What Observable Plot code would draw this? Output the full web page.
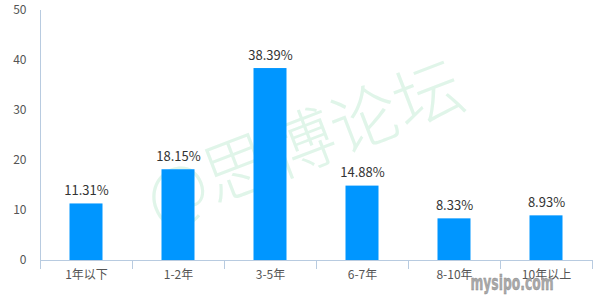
<!DOCTYPE html>
<html>
<head>
<meta charset="utf-8">
<script src="https://cdn.jsdelivr.net/npm/d3@7"></script>
<script src="https://cdn.jsdelivr.net/npm/@observablehq/plot@0.6"></script>
<style>
  body { margin: 0; background: #fff; }
  svg { display: block; }
</style>
</head>
<body>
<div id="chart"></div>
<script>
const categories = ["1年以下", "1-2年", "3-5年", "6-7年", "8-10年", "10年以上"];
const values = [11.31, 18.15, 38.39, 14.88, 8.33, 8.93];
const yTicks = [0, 10, 20, 30, 40, 50];
const watermark = "@思博论坛";
const siteMark = "mysipo.com";

const data = categories.map((c, i) => ({cat: c, val: values[i]}));
const font = "'Noto Sans CJK SC', 'Noto Sans', sans-serif";
const axisColor = "#b8cbe0";

function bandWidth(s, dims) {
  const b = s.x.bandwidth;
  if (typeof b === "function") return b();
  if (typeof b === "number") return b;
  return (dims.width - dims.marginLeft - dims.marginRight) / categories.length;
}

const watermarkMark = (index, scales, values, dims) => {
  const g = d3.create("svg:g");
  const cx = (dims.marginLeft + dims.width - dims.marginRight) / 2 - 14;
  const cy = dims.marginTop + (dims.height - dims.marginTop - dims.marginBottom) / 2 + 3;
  g.append("text")
    .attr("transform", `translate(${cx},${cy}) rotate(-21)`)
    .attr("text-anchor", "middle")
    .attr("dominant-baseline", "central")
    .attr("font-family", font)
    .attr("font-size", 68)
    .attr("font-weight", 300)
    .attr("fill", "#e0f5e9")
    .text(watermark);
  return g.node();
};

const gridMark = (index, scales, values, dims) => {
  const g = d3.create("svg:g").attr("stroke", axisColor).attr("stroke-width", 1);
  const bw = bandWidth(scales, dims);
  const x0 = scales.x(categories[0]);
  const y0 = scales.y(0);
  for (let i = 0; i <= categories.length; i++) {
    const x = Math.round(x0 + i * bw) + 0.5;
    g.append("line").attr("x1", x).attr("x2", x).attr("y1", y0).attr("y2", y0 + 9);
  }
  const xa = Math.round(x0) + 0.5;
  g.append("line").attr("x1", xa).attr("x2", xa).attr("y1", dims.marginTop).attr("y2", y0);
  g.append("line").attr("x1", x0).attr("x2", x0 + bw * categories.length)
    .attr("y1", Math.round(y0) + 0.5).attr("y2", Math.round(y0) + 0.5);
  return g.node();
};

const siteMarkMark = (index, scales, values, dims) => {
  const g = d3.create("svg:g");
  g.append("text")
    .attr("x", dims.width - 88)
    .attr("y", dims.height - 10)
    .attr("textLength", 83)
    .attr("lengthAdjust", "spacingAndGlyphs")
    .attr("font-family", "'DejaVu Sans Condensed', 'DejaVu Sans', sans-serif")
    .attr("font-weight", "bold")
    .attr("font-size", 21)
    .attr("fill", "#a8a8a8")
    .attr("stroke", "#8a8a8a")
    .attr("stroke-width", 0.4)
    .text(siteMark);
  return g.node();
};

const chart = Plot.plot({
  width: 600,
  height: 300,
  marginLeft: 40,
  marginRight: 8,
  marginTop: 10,
  marginBottom: 40,
  style: {fontFamily: font, background: "#fff"},
  x: {domain: categories, padding: 0, label: null},
  y: {domain: [0, 50], label: null},
  marks: [
    watermarkMark,
    Plot.barY(data, {x: "cat", y: "val", fill: "#0096ff", insetLeft: 29.5, insetRight: 29.5}),
    Plot.text(data, {x: "cat", y: "val", text: d => d.val.toFixed(2) + "%", lineAnchor: "bottom", dy: -9, fontSize: 13, fill: "#333"}),
    gridMark,
    Plot.axisY({ticks: yTicks, tickSize: 0, tickPadding: 14, fontSize: 12, color: "#555", label: null}),
    Plot.axisX({tickSize: 0, tickPadding: 10, fontSize: 12, color: "#555", label: null}),
    siteMarkMark
  ]
});
document.getElementById("chart").appendChild(chart);
</script>
</body>
</html>
